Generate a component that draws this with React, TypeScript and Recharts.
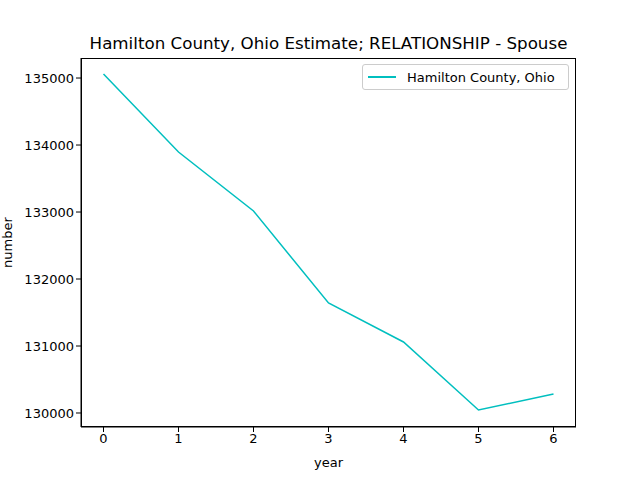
import { LineChart, Line, XAxis, YAxis, Legend } from "recharts";

const years = [0, 1, 2, 3, 4, 5, 6];
const spouses = [135060, 133896, 133015, 131642, 131060, 130045, 130284];
const xTicks = [0, 1, 2, 3, 4, 5, 6];
const yTicks = [130000, 131000, 132000, 133000, 134000, 135000];

const data = years.map((year, i) => ({ year, value: spouses[i] }));

const FONT = "DejaVu Sans, sans-serif";
const COLOR = "#00bfbf";

function LegendBox() {
  return (
    <div
      style={{
        position: "absolute",
        left: 362,
        top: 64,
        width: 205,
        height: 24,
        border: "1px solid #cccccc",
        borderRadius: 3,
        background: "white",
        display: "flex",
        alignItems: "center",
        fontFamily: FONT,
        fontSize: 13,
        color: "#000",
      }}
    >
      <div style={{ width: 28, height: 0, borderTop: `2px solid ${COLOR}`, marginLeft: 5, marginRight: 11 }} />
      Hamilton County, Ohio
    </div>
  );
}

export default function App() {
  return (
    <div style={{ position: "fixed", left: 0, top: 0, width: 640, height: 480, background: "white" }}>
      <div
        style={{
          position: "absolute",
          top: 33,
          left: 71,
          width: 515,
          textAlign: "center",
          fontFamily: FONT,
          fontSize: 16.7,
        }}
      >
        Hamilton County, Ohio Estimate; RELATIONSHIP - Spouse
      </div>
      <LineChart width={640} height={480} data={data} margin={{ top: 58, right: 64, bottom: 23, left: 21 }}>
        <XAxis
          dataKey="year"
          type="number"
          domain={[-0.3, 6.3]}
          ticks={xTicks}
          stroke="#000"
          tick={{ fill: "#000", fontSize: 13, fontFamily: FONT }}
          tickSize={5}
          height={30}
          label={{ value: "year", position: "insideBottom", offset: -10, fill: "#000", fontSize: 13, fontFamily: FONT }}
        />
        <YAxis
          type="number"
          domain={[129791, 135299]}
          ticks={yTicks}
          stroke="#000"
          tick={{ fill: "#000", fontSize: 13, fontFamily: FONT }}
          tickSize={5}
          width={60}
          label={{ value: "number", angle: -90, position: "insideLeft", offset: -14, fill: "#000", fontSize: 13, fontFamily: FONT, style: { textAnchor: "middle" } }}
        />
        <Legend content={() => null} />
        <Line type="linear" dataKey="value" stroke={COLOR} strokeWidth={1.5} dot={false} isAnimationActive={false} />
      </LineChart>
      <div
        style={{
          position: "absolute",
          left: 81,
          top: 58,
          width: 495,
          height: 369,
          boxSizing: "border-box",
          border: "1px solid #000",
          pointerEvents: "none",
        }}
      />
      <LegendBox />
    </div>
  );
}
